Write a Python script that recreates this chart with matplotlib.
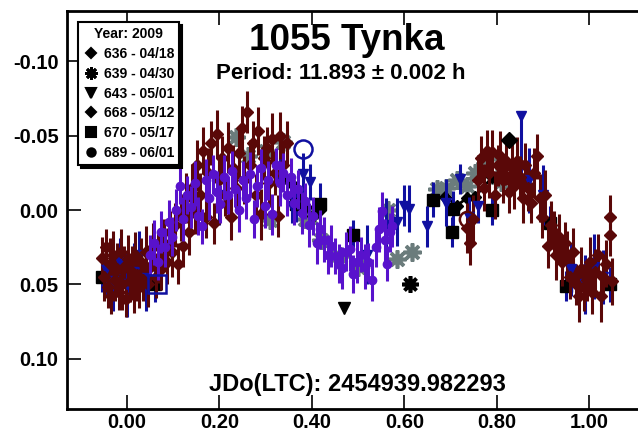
import matplotlib
matplotlib.use("Agg")
import matplotlib.pyplot as plt
from matplotlib.lines import Line2D

plt.rcParams['font.family'] = ['Liberation Sans', 'DejaVu Sans']
plt.rcParams['axes.unicode_minus'] = False

# ---------------- data ----------------
title = "1055 Tynka"
period_text = "Period: 11.893 \u00b1 0.002 h"
jd_text = "JDo(LTC): 2454939.982293"
legend_title = "Year: 2009"
session_labels = ["636 - 04/18", "639 - 04/30", "643 - 05/01",
                  "668 - 05/12", "670 - 05/17", "689 - 06/01"]
x_ticks = [0.0, 0.2, 0.4, 0.6, 0.8, 1.0]
y_ticks = [-0.10, -0.05, 0.0, 0.05, 0.10]

# 636 - black diamonds (joined by a line, one outlier)
s636_phase = [0.355, 0.372, 0.388, 0.402, 0.418, 0.688, 0.714, 0.735, 0.753, 0.790]
s636_mag = [-0.018, -0.010, -0.002, 0.004, 0.000, -0.009, -0.003, -0.008, -0.009, -0.022]
s636_out_phase = [0.827]
s636_out_mag = [-0.047]

# 639 - grey asterisks
s639_phase = [0.235, 0.262, 0.300, 0.338, 0.310, 0.385, 0.396, 0.420, 0.460, 0.500,
              0.565, 0.584, 0.617, 0.670, 0.690, 0.715, 0.735, 0.752, 0.770, 0.780,
              0.800, 0.810]
s639_mag = [-0.049, -0.036, -0.040, -0.046, 0.007, 0.006, 0.005, 0.020, 0.031, 0.038,
            0.000, 0.033, 0.028, -0.014, -0.015, -0.020, -0.016, -0.025, -0.028, -0.034,
            -0.022, -0.019]
s639_out_phase = [0.613]
s639_out_mag = [0.050]

# 643 - blue triangles (error below / above the point)
s643_phase = [-0.045, -0.030, -0.015, 0.000, 0.015, 0.025, 0.040, 0.200, 0.330, 0.357,
              0.380, 0.396, 0.520, 0.560, 0.584, 0.600, 0.610, 0.650, 0.690, 0.720,
              0.740, 0.760, 0.853, 0.870, 0.900, 0.960, 0.990, 1.010, 1.030]
s643_mag = [0.040, 0.048, 0.035, 0.050, 0.042, 0.030, 0.046, -0.010, -0.020, -0.003,
            -0.024, -0.019, 0.030, 0.010, 0.008, -0.003, -0.001, 0.011, -0.005, -0.021,
            0.005, -0.003, -0.063, -0.020, -0.010, 0.040, 0.050, 0.038, 0.045]
s643_err_lo = [0.018, 0.020, 0.016, 0.022, 0.020, 0.016, 0.022, 0.020, 0.015, 0.012,
               0.014, 0.012, 0.020, 0.018, 0.016, 0.014, 0.016, 0.014, 0.016, 0.010,
               0.014, 0.012, 0.003, 0.022, 0.020, 0.018, 0.020, 0.022, 0.018]
s643_err_hi = [0.018, 0.020, 0.016, 0.022, 0.020, 0.016, 0.022, 0.020, 0.015, 0.012,
               0.014, 0.012, 0.020, 0.018, 0.016, 0.014, 0.016, 0.014, 0.016, 0.010,
               0.014, 0.012, 0.048, 0.022, 0.020, 0.018, 0.020, 0.022, 0.018]
s643_out_phase = [0.470]
s643_out_mag = [0.066]

# 668 - maroon diamonds
s668_phase = [-0.055, -0.050, -0.046, -0.042, -0.038, -0.034, -0.030, -0.026, -0.022, -0.018,
              -0.014, -0.010, -0.006, -0.002, 0.002, 0.006, 0.010, 0.014, 0.018, 0.022,
              0.026, 0.030, 0.035, 0.040, 0.045, 0.050, 0.056, 0.062, 0.068, 0.074,
              0.080, 0.086, 0.092, 0.098, 0.104, 0.110, 0.116, 0.122, 0.128, 0.134,
              0.140, 0.146, 0.152, 0.158, 0.164, 0.170, 0.176, 0.182, 0.188, 0.194,
              0.200, 0.206, 0.212, 0.218, 0.224, 0.230, 0.236, 0.242, 0.248, 0.254,
              0.260, 0.266, 0.272, 0.278, 0.284, 0.290, 0.296, 0.302, 0.308, 0.314,
              0.320, 0.326, 0.332, 0.338, 0.346,
              0.735, 0.742, 0.748, 0.760, 0.766, 0.772, 0.778, 0.784, 0.790, 0.796,
              0.802, 0.808, 0.814, 0.820, 0.826, 0.832, 0.838, 0.844, 0.850, 0.856,
              0.862, 0.868, 0.874, 0.880, 0.887, 0.893, 0.899, 0.905, 0.911, 0.917,
              0.923, 0.929, 0.935, 0.941, 0.947, 0.953, 0.959, 0.965, 0.971, 0.977,
              0.983, 0.989, 0.995, 1.001, 1.007, 1.013, 1.019, 1.025, 1.031, 1.037,
              1.045, 1.045, 1.050]
s668_mag = [0.032, 0.045, 0.025, 0.052, 0.036, 0.058, 0.030, 0.047, 0.040, 0.055,
            0.028, 0.050, 0.038, 0.060, 0.033, 0.048, 0.042, 0.056, 0.030, 0.044,
            0.052, 0.035, 0.047, 0.028, 0.050, 0.038, 0.025, 0.045, 0.032, 0.040,
            0.022, 0.035, 0.015, 0.028, 0.010, 0.036, 0.005, 0.024, -0.008, 0.015,
            -0.015, 0.002, -0.030, -0.010, -0.040, 0.005, -0.025, -0.045, 0.009, -0.051,
            -0.020, -0.035, -0.010, -0.042, 0.005, -0.028, -0.015, -0.038, -0.055, -0.020,
            -0.066, -0.030, -0.045, -0.010, -0.053, 0.003, -0.035, -0.042, -0.018, -0.048,
            -0.025, 0.004, -0.050, -0.030, -0.045,
            0.012, 0.022, 0.006, -0.020, -0.035, -0.015, -0.040, -0.025, -0.039, -0.010,
            -0.030, -0.036, -0.020, -0.033, -0.012, -0.028, -0.016, -0.033, -0.022, -0.008,
            -0.030, -0.015, -0.005, -0.025, -0.036, -0.008, 0.005, -0.010, 0.024, 0.010,
            0.015, 0.030, 0.018, 0.035, 0.022, 0.031, 0.045, 0.028, 0.050, 0.058,
            0.040, 0.052, 0.047, 0.035, 0.055, 0.042, 0.030, 0.058, 0.045, 0.036,
            0.005, 0.017, 0.048]
s668_err = [0.014, 0.016, 0.012, 0.014, 0.017, 0.012, 0.016, 0.014, 0.018, 0.012,
            0.015, 0.017, 0.014, 0.012, 0.016, 0.014, 0.018, 0.013, 0.015, 0.017,
            0.014, 0.016, 0.014, 0.017, 0.015, 0.014, 0.016, 0.014, 0.017, 0.014,
            0.016, 0.015, 0.014, 0.017, 0.015, 0.014, 0.016, 0.014, 0.017, 0.015,
            0.016, 0.014, 0.017, 0.015, 0.016, 0.014, 0.017, 0.015, 0.014, 0.016,
            0.017, 0.015, 0.014, 0.017, 0.015, 0.016, 0.014, 0.017, 0.015, 0.016,
            0.014, 0.017, 0.015, 0.014, 0.016, 0.017, 0.015, 0.014, 0.016, 0.017,
            0.015, 0.014, 0.016, 0.017, 0.015,
            0.017, 0.015, 0.016, 0.017, 0.015, 0.016, 0.014, 0.017, 0.015, 0.016,
            0.014, 0.017, 0.015, 0.016, 0.014, 0.017, 0.015, 0.016, 0.014, 0.017,
            0.015, 0.016, 0.014, 0.017, 0.015, 0.016, 0.014, 0.017, 0.015, 0.016,
            0.014, 0.017, 0.015, 0.016, 0.014, 0.017, 0.015, 0.016, 0.014, 0.017,
            0.015, 0.016, 0.014, 0.017, 0.015, 0.016, 0.014, 0.017, 0.015, 0.016,
            0.015, 0.014, 0.016]

# 670 - black squares
s670_phase = [-0.054, 0.060, 0.330, 0.365, 0.418, 0.490, 0.663, 0.703, 0.706, 0.790,
              0.915, 0.950, 1.045]
s670_mag = [0.045, 0.050, -0.022, -0.004, -0.004, 0.017, -0.007, 0.015, -0.001, 0.000,
            0.009, 0.051, 0.050]
s670_err = [0.010, 0.012, 0.010, 0.012, 0.014, 0.010, 0.012, 0.010, 0.012, 0.010,
            0.012, 0.010, 0.012]

# 689 - purple circles
s689_phase = [0.050, 0.058, 0.066, 0.074, 0.082, 0.090, 0.098, 0.106, 0.114, 0.122,
              0.130, 0.138, 0.146, 0.154, 0.162, 0.170, 0.178, 0.186, 0.194, 0.202,
              0.210, 0.218, 0.226, 0.234, 0.242, 0.250, 0.258, 0.266, 0.274, 0.282,
              0.290, 0.298, 0.306, 0.314, 0.322, 0.330, 0.338, 0.346, 0.354, 0.362,
              0.370, 0.378, 0.386, 0.394, 0.402, 0.410, 0.418, 0.426, 0.434, 0.442,
              0.450, 0.458, 0.466, 0.474, 0.482, 0.490, 0.498, 0.506, 0.514, 0.522,
              0.530, 0.538, 0.546, 0.552, 0.558, 0.563, 0.568, 0.574]
s689_mag = [0.030, 0.022, 0.035, 0.015, 0.025, 0.008, 0.018, 0.000, -0.016, 0.006,
            -0.010, -0.002, -0.018, 0.004, 0.011, -0.020, -0.008, -0.024, -0.012, -0.004,
            -0.022, -0.010, -0.026, -0.014, 0.000, -0.020, -0.008, -0.024, 0.006, -0.016,
            -0.028, -0.003, -0.020, 0.003, -0.030, -0.018, -0.025, -0.010, -0.022, -0.005,
            -0.014, 0.002, -0.006, 0.010, 0.004, 0.022, 0.013, 0.020, 0.030, 0.024,
            0.031, 0.036, 0.039, 0.028, 0.026, 0.043, 0.035, 0.030, 0.038, 0.035,
            0.047, 0.025, 0.013, 0.001, 0.020, 0.036, 0.015, 0.011]
s689_err = [0.013, 0.015, 0.012, 0.014, 0.013, 0.015, 0.013, 0.014, 0.012, 0.015,
            0.013, 0.014, 0.015, 0.013, 0.012, 0.014, 0.015, 0.013, 0.014, 0.013,
            0.015, 0.013, 0.014, 0.012, 0.015, 0.013, 0.014, 0.015, 0.013, 0.014,
            0.013, 0.015, 0.013, 0.014, 0.012, 0.015, 0.013, 0.014, 0.013, 0.015,
            0.013, 0.014, 0.012, 0.015, 0.013, 0.014, 0.013, 0.015, 0.013, 0.014,
            0.012, 0.013, 0.014, 0.013, 0.015, 0.013, 0.014, 0.012, 0.015, 0.013,
            0.014, 0.013, 0.015, 0.013, 0.014, 0.012, 0.013, 0.014]

# hollow marks
hollow_phase = [0.380, 0.065, 0.735]
hollow_mag = [-0.041, 0.050, 0.006]

# ---------------- style ----------------
maroon = '#5a0808'
purple = '#5812cc'
blue = '#1010a0'
grey = '#6b7c7c'

fig = plt.figure(figsize=(6.38, 4.33), dpi=100)
ax = fig.add_axes([67/638, 24/433, 573/638, 398/433])

eb = dict(capsize=0, elinewidth=2.2)

# grey asterisks
ax.plot(s639_phase, s639_mag, linestyle='none', marker=(8, 2, 0), ms=13, mew=2.6,
        color=grey, zorder=2)
ax.plot(s639_out_phase, s639_out_mag, linestyle='none', marker=(8, 2, 0), ms=12, mew=2.6,
        color='black', zorder=2)

# black diamonds + connecting line
ax.plot(s636_phase[:5], s636_mag[:5], color='black', lw=2, zorder=3)
ax.plot(s636_phase[5:], s636_mag[5:], color='black', lw=2, zorder=3)
ax.plot(s636_phase, s636_mag, linestyle='none', marker='D', ms=6, color='black', zorder=3)
ax.plot(s636_out_phase, s636_out_mag, linestyle='none', marker='D', ms=8, color='black', zorder=6)

# black squares with blue bars
ax.errorbar(s670_phase, s670_mag, yerr=s670_err, fmt='s', ms=9, color='black',
            ecolor=blue, zorder=3, **eb)

# blue triangles
ax.errorbar(s643_phase, s643_mag, yerr=[s643_err_lo, s643_err_hi], fmt='v', ms=7,
            color=blue, zorder=4, **eb)
ax.plot(s643_out_phase, s643_out_mag, linestyle='none', marker='v', ms=8, color='black', zorder=6)

# maroon diamonds
ax.errorbar(s668_phase, s668_mag, yerr=s668_err, fmt='D', ms=6, color=maroon,
            zorder=4, **eb)

# purple circles
ax.errorbar(s689_phase, s689_mag, yerr=s689_err, fmt='o', ms=6, color=purple,
            zorder=5, **eb)

# hollow marks
ax.plot(hollow_phase[:1], hollow_mag[:1], linestyle='none', marker='o', ms=13, mfc='none',
        mec=blue, mew=1.8, zorder=6)
ax.plot(hollow_phase[1:2], hollow_mag[1:2], linestyle='none', marker='s', ms=13, mfc='none',
        mec=blue, mew=1.8, zorder=6)
ax.plot(hollow_phase[2:], hollow_mag[2:], linestyle='none', marker='o', ms=11, mfc='none',
        mec=maroon, mew=1.8, zorder=6)

# axes
ax.set_xlim(-0.13, 1.11)
ax.set_ylim(0.1338, -0.1338)
ax.set_xticks(x_ticks)
ax.set_yticks(y_ticks)
ax.set_xticklabels([f"{v:.2f}" for v in x_ticks], fontsize=14.5, fontweight='bold')
ax.set_yticklabels([f"{v:.2f}" for v in y_ticks], fontsize=14.5, fontweight='bold')
ax.tick_params(axis='both', direction='in', length=10, width=1.2, top=True, right=False)
ax.tick_params(axis='x', pad=3)
ax.tick_params(axis='y', pad=6)
for sp in ax.spines.values():
    sp.set_linewidth(2)

# texts
fig.text(0.544, 0.9076, title, ha='center', va='center', fontsize=26.5, fontweight='bold')
fig.text(0.534, 0.830, period_text, ha='center', va='center', fontsize=16, fontweight='bold')
fig.text(0.56, 0.111, jd_text, ha='center', va='center', fontsize=17, fontweight='bold')

# legend
markers = ['D', (8, 2, 0), 'v', 'D', 's', 'o']
msizes = [5, 9, 7, 5, 7, 6]
mews = [1.5, 2.0, 1.5, 1.5, 1.5, 1.5]
handles = [Line2D([], [], linestyle='none', marker=m, ms=s, color='black', mew=w)
           for m, s, w in zip(markers, msizes, mews)]
leg = ax.legend(handles, session_labels, title=legend_title, loc='upper left',
                bbox_to_anchor=(0.019, 0.972), borderaxespad=0,
                title_fontproperties={'weight': 'bold', 'size': 10},
                prop={'weight': 'bold', 'size': 10}, frameon=True, fancybox=False,
                shadow={'color': 'black', 'alpha': 1}, labelspacing=0.42,
                handletextpad=0.3, handlelength=1.2, borderpad=0.35,
                framealpha=1, edgecolor='black')
leg.get_frame().set_linewidth(1.5)
leg.set_zorder(10)

fig.savefig("out.png", dpi=100)
